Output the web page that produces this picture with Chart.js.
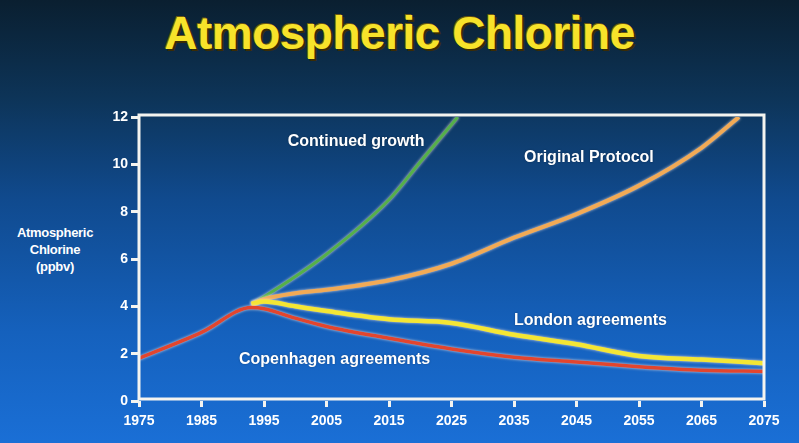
<!DOCTYPE html>
<html>
<head>
<meta charset="utf-8">
<script src="https://cdn.jsdelivr.net/npm/chart.js@4"></script>
<style>
  html, body { margin: 0; padding: 0; }
  body {
    width: 799px; height: 443px; overflow: hidden; position: relative;
    background: linear-gradient(180deg, #0a1f30 0%, #0d3458 22%, #104a8e 45%, #1561bd 75%, #1a6fd6 100%);
    font-family: "Liberation Sans", Arial, sans-serif;
  }
  #title {
    position: absolute; left: 0; width: 799px; top: 6px; text-align: center;
    color: #f7e32a; font-weight: bold; font-size: 46px; letter-spacing: -0.5px;
    text-shadow: 2px 2px 0 #3a2c05, -1px -1px 0 #6b5510;
  }
  #ylabel {
    position: absolute; left: 0; width: 110px; top: 224px; text-align: center;
    color: #fff; font-weight: bold; font-size: 13px; line-height: 17px; letter-spacing: -0.3px;
  }
  #wrap { position: absolute; left: 0; top: 0; width: 799px; height: 443px; }
</style>
</head>
<body>
<div id="title">Atmospheric Chlorine</div>
<div id="ylabel">Atmospheric<br>Chlorine<br>(ppbv)</div>
<div id="wrap"><canvas id="chart"></canvas></div>
<script>
// data
const xTicks = [1975, 1985, 1995, 2005, 2015, 2025, 2035, 2045, 2055, 2065, 2075];
const yTicks = [0, 2, 4, 6, 8, 10, 12];

const copenhagenYears = [1975, 1985, 1993, 1995, 2000, 2005, 2015, 2025, 2035, 2045, 2055, 2065, 2075];
const copenhagen = [1.8, 2.9, 3.95, 3.9, 3.5, 3.15, 2.65, 2.2, 1.85, 1.65, 1.45, 1.3, 1.25];

const londonYears = [1993, 1995, 2000, 2005, 2015, 2025, 2035, 2045, 2055, 2065, 2075];
const london = [4.1, 4.2, 4.0, 3.8, 3.45, 3.3, 2.8, 2.4, 1.9, 1.75, 1.6];

const originalYears = [1993, 1995, 2000, 2005, 2015, 2025, 2035, 2045, 2055, 2065, 2071];
const original = [4.1, 4.3, 4.55, 4.7, 5.1, 5.8, 6.9, 7.9, 9.1, 10.7, 12];

const growthYears = [1993, 1995, 2005, 2015, 2020, 2026];
const growth = [4.1, 4.4, 6.2, 8.5, 10.1, 12.0];

// curve labels: [text, year, value]
const curveLabels = [
  ['Continued growth', 1998.8, 10.95],
  ['Original Protocol', 2036.6, 10.3],
  ['London agreements', 2035, 3.4],
  ['Copenhagen agreements', 1991, 1.73]
];

const pts = (xs, ys) => xs.map((x, i) => ({ x: x, y: ys[i] }));

// light halo round each curve
const halo = {
  id: 'halo',
  beforeDatasetDraw(chart) {
    const c = chart.ctx;
    c.save();
    c.shadowColor = 'rgba(255,235,225,0.85)';
    c.shadowBlur = 3;
  },
  afterDatasetDraw(chart) { chart.ctx.restore(); }
};

// white frame and text labels
const frame = {
  id: 'frame',
  afterDraw(chart) {
    const c = chart.ctx, a = chart.chartArea;
    const sx = chart.scales.x, sy = chart.scales.y;
    c.save();
    c.strokeStyle = '#f4f4f0';
    c.lineWidth = 3;
    c.strokeRect(a.left, a.top - 2, a.right - a.left, a.bottom - a.top + 0);
    c.fillStyle = '#ffffff';
    c.font = 'bold 16px "Liberation Sans", Arial, sans-serif';
    c.textBaseline = 'middle';
    c.shadowColor = 'rgba(0,0,0,0.35)';
    c.shadowBlur = 2;
    curveLabels.forEach(l => {
      c.fillText(l[0], sx.getPixelForValue(l[1]), sy.getPixelForValue(l[2]));
    });
    c.restore();
  }
};

const line = (data, color, width, order) => ({
  data: data,
  borderColor: color,
  borderWidth: width,
  pointRadius: 0,
  cubicInterpolationMode: 'monotone',
  order: order
});

new Chart(document.getElementById('chart'), {
  type: 'line',
  data: {
    datasets: [
      line(pts(copenhagenYears, copenhagen), '#e2452e', 3.5, 1),
      line(pts(londonYears, london), '#f4e634', 4.5, 2),
      line(pts(originalYears, original), '#f2aa55', 4, 3),
      line(pts(growthYears, growth), '#55b04a', 3, 4)
    ]
  },
  options: {
    responsive: true,
    maintainAspectRatio: false,
    animation: false,
    layout: { padding: { left: 0, right: 35, top: 117, bottom: 0 } },
    plugins: { legend: { display: false }, tooltip: { enabled: false } },
    scales: {
      x: {
        type: 'linear',
        min: 1975, max: 2075,
        afterFit: s => { s.height = 42; },
        afterBuildTicks: s => { s.ticks = xTicks.map(v => ({ value: v })); },
        border: { display: false },
        grid: { drawOnChartArea: false, drawTicks: true, tickLength: 6, color: '#f4f4f0', lineWidth: 3 },
        ticks: {
          color: '#ffffff', padding: 6, maxRotation: 0,
          font: { family: '"Liberation Sans", Arial, sans-serif', size: 14, weight: 'bold' },
          callback: v => String(v)
        }
      },
      y: {
        min: 0, max: 12,
        afterFit: s => { s.width = 139; },
        afterBuildTicks: s => { s.ticks = yTicks.map(v => ({ value: v })); },
        border: { display: false },
        grid: { drawOnChartArea: false, drawTicks: true, tickLength: 8, color: '#f4f4f0', lineWidth: 3 },
        ticks: {
          color: '#ffffff', padding: 3,
          font: { family: '"Liberation Sans", Arial, sans-serif', size: 14, weight: 'bold' }
        }
      }
    }
  },
  plugins: [halo, frame]
});
</script>
</body>
</html>
